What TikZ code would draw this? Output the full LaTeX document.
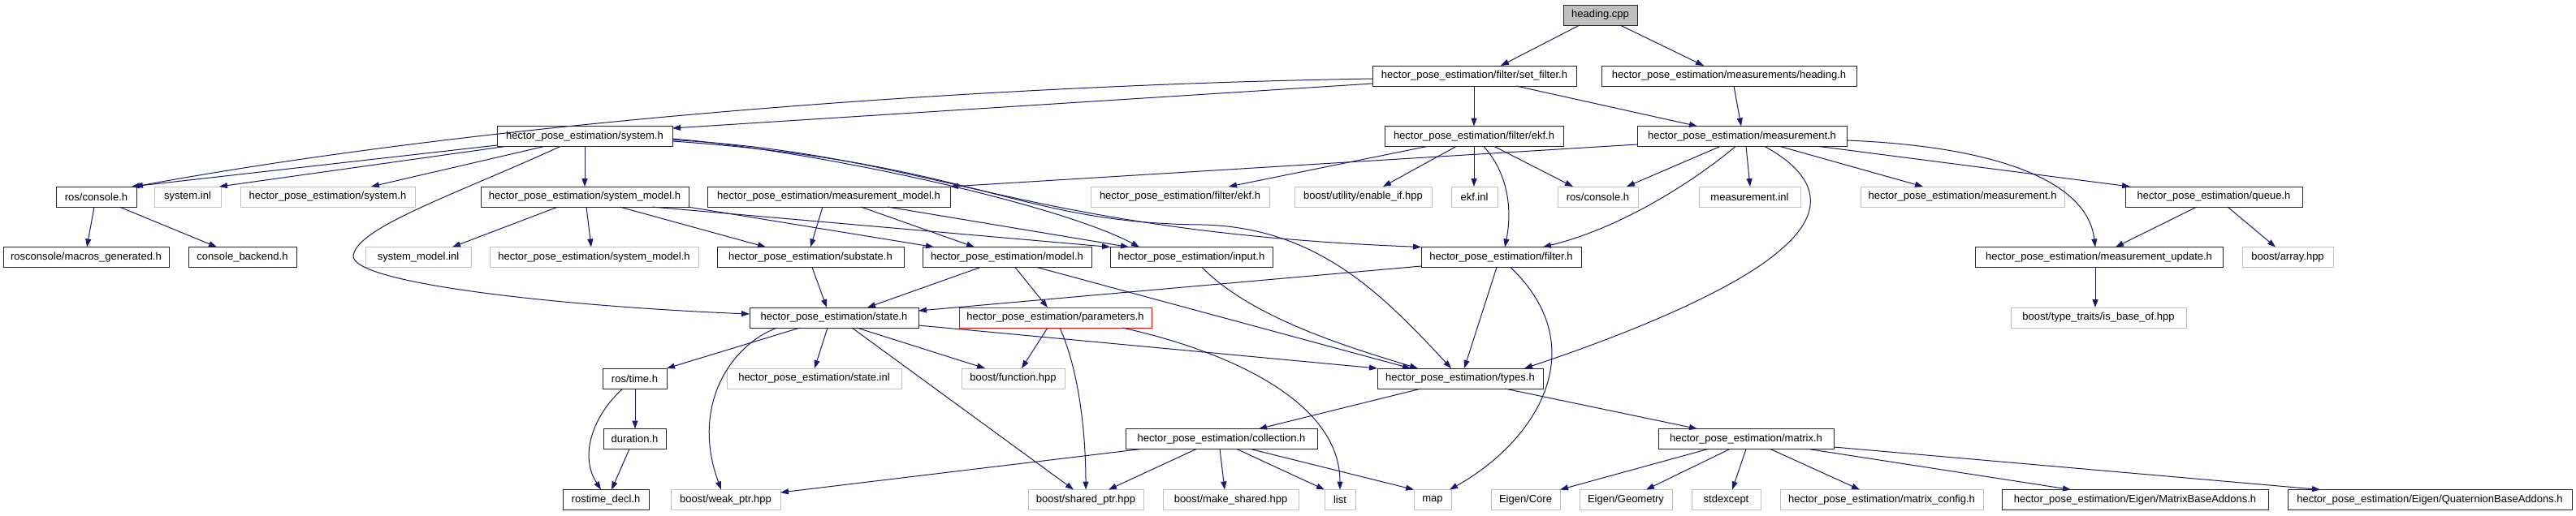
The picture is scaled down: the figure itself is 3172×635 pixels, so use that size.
\documentclass[tikz,border=0pt]{standalone}
\usepackage{fontspec}
\setmainfont{Liberation Sans}
\usetikzlibrary{arrows.meta}
\definecolor{edgeblue}{HTML}{191970}
\definecolor{gry}{HTML}{BFBFBF}
\tikzset{
  nbase/.style={draw, rectangle, inner sep=0pt, outer sep=0pt, minimum height=25pt, line width=1pt, font=\fontsize{13}{15}\selectfont, text=black},
  blk/.style={nbase, draw=black!85},
  gryb/.style={nbase, draw=gry},
  redb/.style={nbase, draw=red},
  mainb/.style={nbase, draw=black!85, fill=gry},
  e/.style={draw=edgeblue, line width=1pt, -{Triangle[length=10pt,width=7pt]}, edgeblue}
}
\newcommand\nd[6]{\node[#5, minimum width={#3-#2}] (#1) at ({(#2+#3)/2},#4) {#6};}
\begin{document}
\begin{tikzpicture}[x=1pt,y=-1pt]
\useasboundingbox (0,0) rectangle (3172,635);
% row 0
\nd{heading}{1925}{2016}{18.5}{mainb}{heading.cpp}
% row 1
\nd{setfilter}{1690}{1941}{93.5}{blk}{hector\_pose\_estimation/filter/set\_filter.h}
\nd{headingh}{1972}{2286}{93.5}{blk}{hector\_pose\_estimation/measurements/heading.h}
% row 2
\nd{system}{612}{828}{168}{blk}{hector\_pose\_estimation/system.h}
\nd{ekf}{1705}{1925}{168}{blk}{hector\_pose\_estimation/filter/ekf.h}
\nd{measurement}{2016}{2274}{168}{blk}{hector\_pose\_estimation/measurement.h}
% row 3
\nd{rosconsoleA}{69}{168}{242.5}{blk}{ros/console.h}
\nd{systeminl}{190}{272}{242.5}{gryb}{system.inl}
\nd{systemg}{296}{511}{242.5}{gryb}{hector\_pose\_estimation/system.h}
\nd{systemmodel}{592}{848}{242.5}{blk}{hector\_pose\_estimation/system\_model.h}
\nd{measmodel}{871}{1170}{242.5}{blk}{hector\_pose\_estimation/measurement\_model.h}
\nd{ekfg}{1343}{1563}{242.5}{gryb}{hector\_pose\_estimation/filter/ekf.h}
\nd{enableif}{1594}{1763}{242.5}{gryb}{boost/utility/enable\_if.hpp}
\nd{ekfinl}{1787}{1844}{242.5}{gryb}{ekf.inl}
\nd{rosconsoleB}{1918}{2017}{242.5}{gryb}{ros/console.h}
\nd{measinl}{2092}{2217}{242.5}{gryb}{measurement.inl}
\nd{measg}{2291}{2542}{242.5}{gryb}{hector\_pose\_estimation/measurement.h}
\nd{queue}{2617}{2835}{242.5}{blk}{hector\_pose\_estimation/queue.h}
% row 4
\nd{macros}{4}{208}{317}{blk}{rosconsole/macros\_generated.h}
\nd{backend}{232}{365}{317}{blk}{console\_backend.h}
\nd{sysmodelinl}{450}{580}{317}{gryb}{system\_model.inl}
\nd{sysmodelg}{603}{860}{317}{gryb}{hector\_pose\_estimation/system\_model.h}
\nd{substate}{883}{1113}{317}{blk}{hector\_pose\_estimation/substate.h}
\nd{model}{1136}{1344}{317}{blk}{hector\_pose\_estimation/model.h}
\nd{input}{1367}{1567}{317}{blk}{hector\_pose\_estimation/input.h}
\nd{filter}{1750}{1947}{317}{blk}{hector\_pose\_estimation/filter.h}
\nd{measupdate}{2432}{2737}{317}{blk}{hector\_pose\_estimation/measurement\_update.h}
\nd{array}{2761}{2873}{317}{gryb}{boost/array.hpp}
% row 5
\nd{state}{923}{1131}{391.5}{blk}{hector\_pose\_estimation/state.h}
\nd{params}{1181}{1418}{391.5}{redb}{hector\_pose\_estimation/parameters.h}
\nd{isbase}{2476}{2692}{391.5}{gryb}{boost/type\_traits/is\_base\_of.hpp}
% row 6
\nd{rostime}{742}{821}{466.5}{blk}{ros/time.h}
\nd{stateinl}{895}{1110}{466.5}{gryb}{hector\_pose\_estimation/state.inl}
\nd{function}{1184}{1311}{466.5}{gryb}{boost/function.hpp}
\nd{types}{1696}{1900}{466.5}{blk}{hector\_pose\_estimation/types.h}
% row 7
\nd{duration}{743}{820}{541}{blk}{duration.h}
\nd{collection}{1386}{1622}{541}{blk}{hector\_pose\_estimation/collection.h}
\nd{matrix}{2042}{2258}{541}{blk}{hector\_pose\_estimation/matrix.h}
% row 8
\nd{rostimedecl}{693}{799}{616}{blk}{rostime\_decl.h}
\nd{weakptr}{826}{961}{616}{gryb}{boost/weak\_ptr.hpp}
\nd{sharedptr}{1266}{1408}{616}{gryb}{boost/shared\_ptr.hpp}
\nd{makeshared}{1432}{1599}{616}{gryb}{boost/make\_shared.hpp}
\nd{list}{1631}{1669}{616}{gryb}{list}
\nd{map}{1741}{1787}{616}{gryb}{map}
\nd{eigencore}{1836}{1921}{616}{gryb}{Eigen/Core}
\nd{eigengeo}{1945}{2059}{616}{gryb}{Eigen/Geometry}
\nd{stdexcept}{2083}{2168}{616}{gryb}{stdexcept}
\nd{matconfig}{2192}{2442}{616}{gryb}{hector\_pose\_estimation/matrix\_config.h}
\nd{matbase}{2465}{2793}{616}{blk}{hector\_pose\_estimation/Eigen/MatrixBaseAddons.h}
\nd{quatbase}{2817}{3167}{616}{blk}{hector\_pose\_estimation/Eigen/QuaternionBaseAddons.h}

% edges
\draw[e] (heading.south -| 1945,0) -- (setfilter.north -| 1848,0);
\draw[e] (heading.south -| 1995,0) -- (headingh.north -| 2098,0);
\draw[e] (setfilter.south -| 1815,0) -- (ekf.north -| 1815,0);
\draw[e] (setfilter.south -| 1867,0) -- (measurement.north -| 2090,0);
\draw[e] (setfilter.west |- 0,103) -- (system.east |- 0,158);
\draw[e] (setfilter.west |- 0,97) .. controls (1200,105) and (600,150) .. (rosconsoleA.north -| 166,0);
\draw[e] (headingh.south -| 2135,0) -- (measurement.north -| 2144,0);
\draw[e] (system.south -| 720,0) -- (systemmodel.north -| 720,0);
\draw[e] (system.west |- 0,179) -- (rosconsoleA.north -| 162,0);
\draw[e] (system.south -| 622,0) -- (systeminl.north -| 270,0);
\draw[e] (system.south -| 670,0) -- (systemg.north -| 457,0);
\draw[e] (system.south -| 690,0) .. controls (560,240) and (440,280) .. (435,315) .. controls (432,350) and (700,378) .. (state.west |- 0,387);
\draw[e] (system.east |- 0,171) .. controls (1000,185) and (1300,250) .. (input.north -| 1403,0);
\draw[e] (system.east |- 0,172.5) .. controls (1150,190) and (1250,285) .. (filter.north west);
\draw[e] (system.east |- 0,174) .. controls (1200,200) and (1250,275) .. (1480,277) .. controls (1620,280) and (1700,360) .. (types.north -| 1787,0);
\draw[e] (systemmodel.south -| 687,0) -- (sysmodelinl.north -| 557,0);
\draw[e] (systemmodel.south -| 722,0) -- (sysmodelg.north -| 728,0);
\draw[e] (systemmodel.south -| 763,0) -- (substate.north -| 943,0);
\draw[e] (systemmodel.south -| 803,0) -- (input.north west);
\draw[e] (systemmodel.south -| 847,0) -- (model.north -| 1150,0);
\draw[e] (measmodel.south -| 1013,0) -- (substate.north -| 998,0);
\draw[e] (measmodel.south -| 1060,0) -- (model.north -| 1200,0);
\draw[e] (measmodel.south -| 1093,0) -- (input.north -| 1390,0);
\draw[e] (measurement.west |- 0,178) -- (measmodel.north east);
\draw[e] (ekf.south -| 1757,0) -- (ekfg.north -| 1513,0);
\draw[e] (ekf.south -| 1793,0) -- (enableif.north -| 1703,0);
\draw[e] (ekf.south -| 1815,0) -- (ekfinl.north -| 1815,0);
\draw[e] (ekf.south -| 1840,0) -- (rosconsoleB.north -| 1937,0);
\draw[e] (ekf.south -| 1827,0) .. controls (1858,215) and (1862,260) .. (filter.north -| 1853,0);
\draw[e] (measurement.south -| 2118,0) -- (rosconsoleB.north -| 2003,0);
\draw[e] (measurement.south -| 2137,0) .. controls (2090,220) and (2000,280) .. (filter.north -| 1900,0);
\draw[e] (measurement.south -| 2150,0) -- (measinl.north -| 2155,0);
\draw[e] (measurement.south -| 2173,0) .. controls (2245,220) and (2245,265) .. (2190,310) .. controls (2120,370) and (1950,430) .. (types.north -| 1877,0);
\draw[e] (measurement.south -| 2192,0) -- (measg.north -| 2368,0);
\draw[e] (measurement.south -| 2240,0) -- (queue.north -| 2623,0);
\draw[e] (measurement.east |- 0,173) .. controls (2450,180) and (2570,220) .. (measupdate.north -| 2580,0);
\draw[e] (queue.south -| 2705,0) -- (measupdate.north -| 2605,0);
\draw[e] (queue.south -| 2743,0) -- (array.north -| 2802,0);
\draw[e] (measupdate.south -| 2580,0) -- (isbase.north -| 2580,0);
\draw[e] (rosconsoleA.south -| 116,0) -- (macros.north -| 107,0);
\draw[e] (rosconsoleA.south -| 147,0) -- (backend.north -| 267,0);
\draw[e] (substate.south -| 1000,0) -- (state.north -| 1018,0);
\draw[e] (model.south -| 1207,0) -- (state.north -| 1068,0);
\draw[e] (model.south -| 1250,0) -- (params.north -| 1290,0);
\draw[e] (model.south -| 1277,0) -- (types.north -| 1737,0);
\draw[e] (input.south -| 1480,0) .. controls (1540,390) and (1650,425) .. (types.north -| 1746,0);
\draw[e] (filter.west |- 0,328) -- (state.east |- 0,383);
\draw[e] (filter.south -| 1843,0) -- (types.north -| 1803,0);
\draw[e] (filter.south -| 1860,0) .. controls (1965,430) and (1890,545) .. (map.north -| 1785,0);
\draw[e] (state.south -| 985,0) -- (rostime.north east);
\draw[e] (state.south -| 957,0) .. controls (900,425) and (850,500) .. (weakptr.north -| 888,0);
\draw[e] (state.south -| 1019,0) -- (stateinl.north -| 1003,0);
\draw[e] (state.south -| 1055,0) -- (function.north -| 1213,0);
\draw[e] (state.south -| 1049,0) -- (sharedptr.north -| 1322,0);
\draw[e] (state.east |- 0,401) -- (types.north west);
\draw[e] (params.south -| 1290,0) -- (function.north -| 1258,0);
\draw[e] (params.south -| 1305,0) .. controls (1330,460) and (1337,540) .. (sharedptr.north -| 1337,0);
\draw[e] (params.south -| 1382,0) .. controls (1500,430) and (1650,490) .. (list.north -| 1650,0);
\draw[e] (rostime.south -| 782,0) -- (duration.north -| 782,0);
\draw[e] (rostime.south -| 767,0) .. controls (732,510) and (712,560) .. (rostimedecl.north -| 740,0);
\draw[e] (duration.south -| 775,0) -- (rostimedecl.north -| 753,0);
\draw[e] (types.south -| 1750,0) -- (collection.north -| 1550,0);
\draw[e] (types.south -| 1853,0) -- (matrix.north -| 2090,0);
\draw[e] (collection.south -| 1405,0) -- (weakptr.east |- 0,607);
\draw[e] (collection.south -| 1473,0) -- (sharedptr.north -| 1365,0);
\draw[e] (collection.south -| 1502,0) -- (makeshared.north -| 1508,0);
\draw[e] (collection.south -| 1523,0) -- (list.north west);
\draw[e] (collection.south -| 1540,0) -- (map.north west);
\draw[e] (matrix.south -| 2103,0) -- (eigencore.north east);
\draw[e] (matrix.south -| 2130,0) -- (eigengeo.north -| 2027,0);
\draw[e] (matrix.south -| 2150,0) -- (stdexcept.north -| 2133,0);
\draw[e] (matrix.south -| 2180,0) -- (matconfig.north -| 2290,0);
\draw[e] (matrix.south -| 2227,0) -- (matbase.north -| 2550,0);
\draw[e] (matrix.east |- 0,551) -- (quatbase.north -| 2857,0);
\end{tikzpicture}
\end{document}
